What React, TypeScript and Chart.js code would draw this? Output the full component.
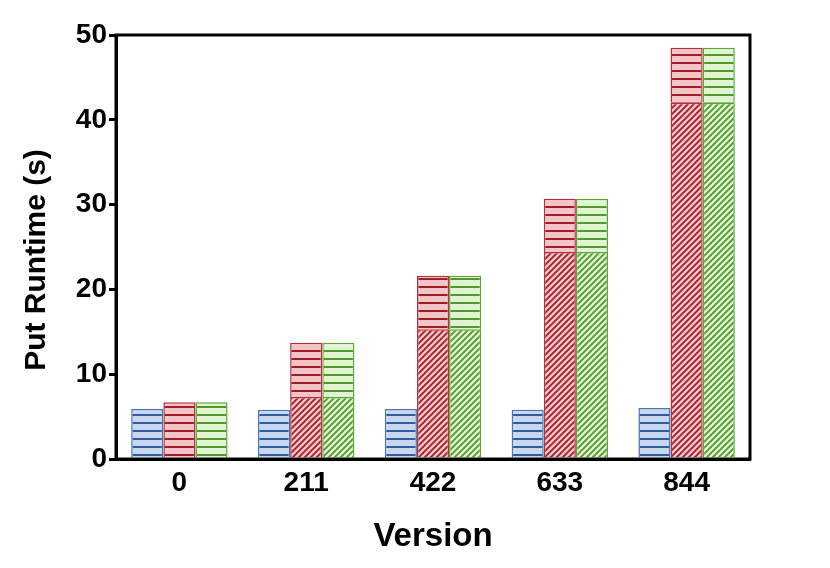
import React, { useEffect, useRef } from "react";
import { Chart, registerables } from "chart.js";
Chart.register(...registerables);

const versions = ["0", "211", "422", "633", "844"];
const baseline = [5.9, 5.8, 5.9, 5.8, 6.0];
const redHatched = [null, 7.3, 15.3, 24.4, 42.0];
const redLined = [6.7, 6.4, 6.3, 6.3, 6.5];
const greenHatched = [null, 7.3, 15.3, 24.4, 42.0];
const greenLined = [6.7, 6.4, 6.3, 6.3, 6.5];
const yTicks = [0, 10, 20, 30, 40, 50];
const xTitle = "Version";
const yTitle = "Put Runtime (s)";

function horizPattern(bg: string, fg: string) {
  const c = document.createElement("canvas");
  c.width = 8;
  c.height = 8;
  const x = c.getContext("2d")!;
  x.fillStyle = bg;
  x.fillRect(0, 0, 8, 8);
  x.fillStyle = fg;
  x.fillRect(0, 6, 8, 2);
  return x.createPattern(c, "repeat")!;
}
function diagPattern(bg: string, fg: string) {
  const s = 6;
  const c = document.createElement("canvas");
  c.width = s;
  c.height = s;
  const x = c.getContext("2d")!;
  x.fillStyle = bg;
  x.fillRect(0, 0, s, s);
  x.strokeStyle = fg;
  x.lineWidth = 1.8;
  x.beginPath();
  x.moveTo(0, s);
  x.lineTo(s, 0);
  x.moveTo(-1, 1);
  x.lineTo(1, -1);
  x.moveTo(s - 1, s + 1);
  x.lineTo(s + 1, s - 1);
  x.stroke();
  return x.createPattern(c, "repeat")!;
}

const FONT = "'Liberation Sans', Arial, sans-serif";

export default function App() {
  const ref = useRef<HTMLCanvasElement>(null);
  useEffect(() => {
    document.body.style.margin = "0";
    const blueBg = "#c8d8ef", blueFg = "#2f5c9e";
    const redBg = "#f3c4c8", redFg = "#a11d28";
    const greenBg = "#e2f3d2", greenFg = "#4e9a2b";
    const frame = {
      id: "frame",
      afterDraw(chart: any) {
        const { ctx, chartArea: a } = chart;
        ctx.save();
        ctx.strokeStyle = "#000";
        ctx.lineWidth = 3;
        ctx.strokeRect(a.left, a.top, a.right - a.left, a.bottom - a.top);
        ctx.translate(37, (a.top + a.bottom) / 2 + 13);
        ctx.rotate(-Math.PI / 2);
        ctx.fillStyle = "#000";
        ctx.font = `bold 30px ${FONT}`;
        ctx.textAlign = "center";
        ctx.textBaseline = "middle";
        ctx.fillText(yTitle, 0, 0);
        ctx.restore();
      },
    };
    const common = { borderWidth: 1.5, categoryPercentage: 0.76, barPercentage: 1 };
    const chart = new Chart(ref.current!, {
      type: "bar",
      data: {
        labels: versions,
        datasets: [
          { label: "base", data: baseline, stack: "a", backgroundColor: horizPattern(blueBg, blueFg), borderColor: "#4a73b0", ...common },
          { label: "red hatched", data: redHatched, stack: "b", backgroundColor: diagPattern(redBg, redFg), borderColor: "#b0303a", ...common },
          { label: "red lined", data: redLined, stack: "b", backgroundColor: horizPattern(redBg, redFg), borderColor: "#b0303a", ...common },
          { label: "green hatched", data: greenHatched, stack: "c", backgroundColor: diagPattern(greenBg, greenFg), borderColor: "#5ea33a", ...common },
          { label: "green lined", data: greenLined, stack: "c", backgroundColor: horizPattern(greenBg, greenFg), borderColor: "#5ea33a", ...common },
        ] as any,
      },
      options: {
        animation: false,
        responsive: false,
        layout: { padding: { top: 35, right: 80, left: 0, bottom: 0 } },
        plugins: { legend: { display: false }, tooltip: { enabled: false } },
        scales: {
          x: {
            stacked: true,
            grid: { display: false, drawTicks: false },
            border: { color: "#000", width: 3 },
            ticks: { color: "#000", font: { family: FONT, size: 28, weight: "bold" }, padding: 7 },
            title: { display: true, text: xTitle, color: "#000", font: { family: FONT, size: 33, weight: "bold" }, padding: { top: 0, bottom: 11 } },
            afterFit: (s: any) => { s.height = 109; },
          },
          y: {
            stacked: true,
            min: 0,
            max: 50,
            afterBuildTicks: (s: any) => { s.ticks = yTicks.map((v) => ({ value: v })); },
            grid: { drawOnChartArea: false, color: "#000", lineWidth: 3, tickLength: 7 },
            border: { color: "#000", width: 3 },
            ticks: { color: "#000", font: { family: FONT, size: 28, weight: "bold" }, padding: 2 },
            title: { display: false },
            afterFit: (s: any) => { s.width = 116; },
          },
        },
      },
      plugins: [frame],
    } as any);
    return () => chart.destroy();
  }, []);
  return <canvas ref={ref} width={830} height={568} style={{ display: "block" }} />;
}
